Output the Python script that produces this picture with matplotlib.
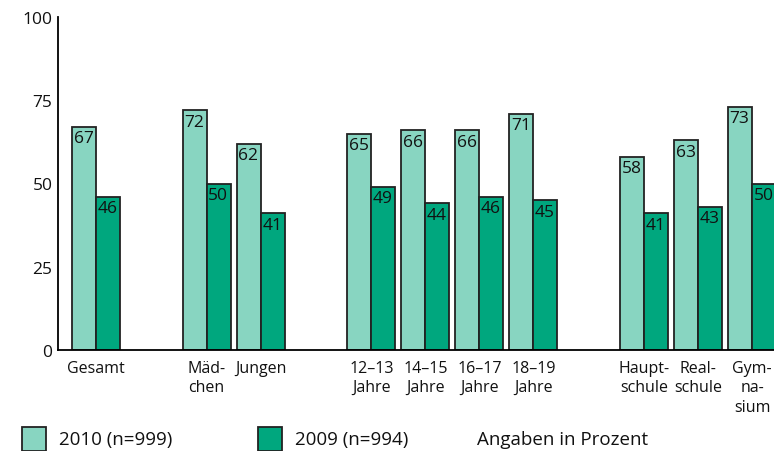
import matplotlib
matplotlib.use("Agg")
import matplotlib.pyplot as plt
from matplotlib.patches import Rectangle

categories = ["Gesamt", "Mäd-\nchen", "Jungen", "12–13\nJahre", "14–15\nJahre",
              "16–17\nJahre", "18–19\nJahre", "Haupt-\nschule", "Real-\nschule", "Gym-\nna-\nsium"]
groups = [0, 1, 1, 2, 2, 2, 2, 3, 3, 3]
values_2010 = [67, 72, 62, 65, 66, 66, 71, 58, 63, 73]
values_2009 = [46, 50, 41, 49, 44, 46, 45, 41, 43, 50]
yticks = [0, 25, 50, 75, 100]
legend_labels = ["2010 (n=999)", "2009 (n=994)"]
note = "Angaben in Prozent"

c_light = "#88D5C1"
c_dark = "#00A77E"
edge = "#222222"
font = ["Open Sans", "DejaVu Sans"]
plt.rcParams["font.family"] = font

W, H = 774, 452
fig = plt.figure(figsize=(W / 100, H / 100), dpi=100)
ax = fig.add_axes([58 / W, (H - 351) / H, 1 - 58 / W, (351 - 18) / H])

# positions: slot = 1 per pair, extra gap between groups
gap = 1.05
pos = []
x = 0.0
prev = groups[0]
for i, g in enumerate(groups):
    if i > 0:
        x += 1.0 + (gap if g != prev else 0.0)
    pos.append(x)
    prev = g

bw = 24 / 54
for p, v1, v2 in zip(pos, values_2010, values_2009):
    ax.bar(p - bw / 2, v1, width=bw, color=c_light, edgecolor=edge, linewidth=1.3, zorder=2)
    ax.bar(p + bw / 2, v2, width=bw, color=c_dark, edgecolor=edge, linewidth=1.3, zorder=2)
    ax.annotate(str(v1), (p - bw, v1), xytext=(1.2, -2.5), textcoords="offset points",
                ha="left", va="top", fontsize=12.5, color="#111111", zorder=3)
    ax.annotate(str(v2), (p, v2), xytext=(1.2, -2.5), textcoords="offset points",
                ha="left", va="top", fontsize=12.5, color="#111111", zorder=3)

ax.set_xlim(pos[0] - 38 / 54, pos[-1] + 22 / 54)
ax.set_ylim(0, 100)
ax.set_yticks(yticks)
ax.set_yticklabels([str(t) for t in yticks], fontsize=12.5)
ax.set_xticks(pos)
ax.set_xticklabels(categories, fontsize=11.5, linespacing=1.3, va="top")
ax.tick_params(axis="both", length=0, colors="#111111")
ax.tick_params(axis="y", pad=4)
ax.tick_params(axis="x", pad=7)
for s in ["top", "right"]:
    ax.spines[s].set_visible(False)
ax.spines["left"].set_linewidth(1.3)
ax.spines["bottom"].set_linewidth(1.3)
ax.set_facecolor("white")

# legend
for (x0, col, lab, tx) in [(22, c_light, legend_labels[0], 59), (258, c_dark, legend_labels[1], 295)]:
    fig.patches.append(Rectangle((x0 / W, 0), 24 / W, 24 / H, transform=fig.transFigure,
                                 facecolor=col, edgecolor=edge, linewidth=1.3))
    fig.text(tx / W, (H - 440) / H, lab, ha="left", va="center", fontsize=13.5, color="#111111")
fig.text(477 / W, (H - 440) / H, note, ha="left", va="center", fontsize=13.5, color="#111111")

fig.savefig("out.png", dpi=100)
